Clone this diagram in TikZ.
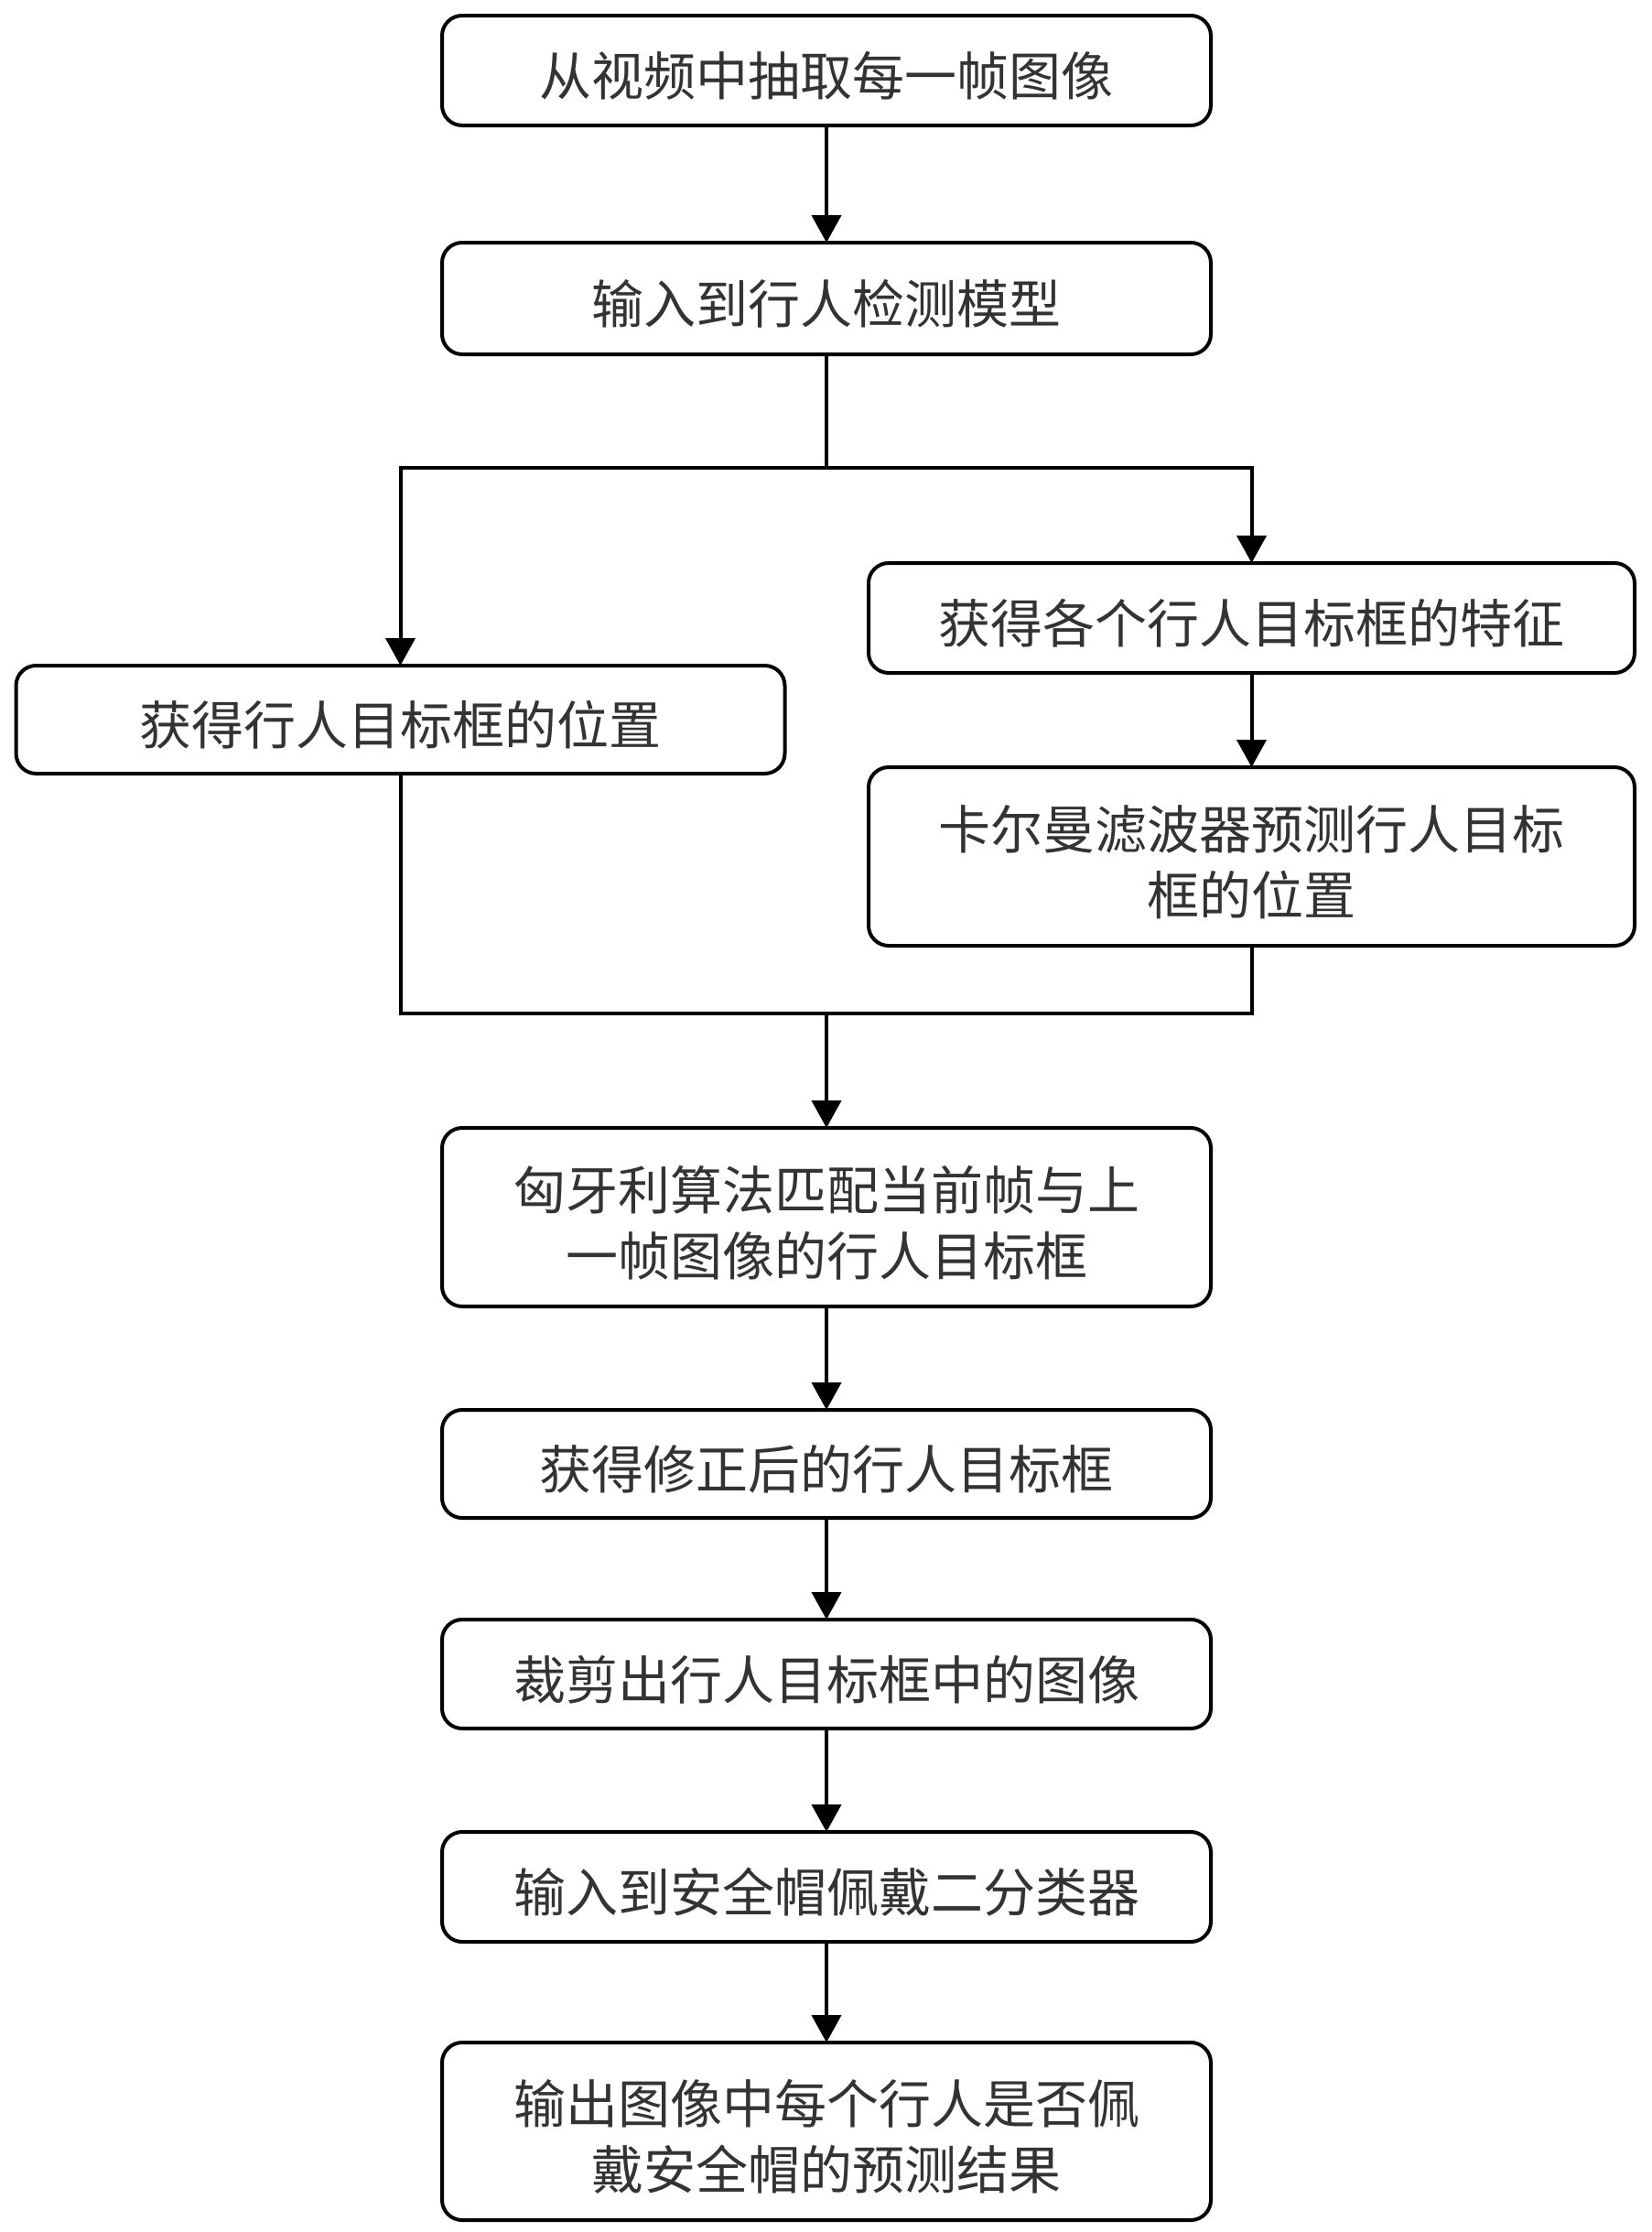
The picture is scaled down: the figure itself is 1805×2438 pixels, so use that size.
\documentclass[tikz,border=0pt]{standalone}
\usepackage{fontspec}
\setmainfont{Noto Sans CJK SC}
\usetikzlibrary{arrows.meta}
\begin{document}
\begin{tikzpicture}[x=0.5pt,y=-0.5pt,
  box/.style={draw, line width=2pt, rounded corners=11pt, minimum width=420pt,
    inner sep=0pt, outer sep=0pt},
  txt/.style={inner sep=0pt, align=center,
    font=\fontsize{28.5}{36}\selectfont, text=black!80},
  arr/.style={line width=2pt, -{Triangle[length=15pt,width=16pt]}},
  ln/.style={line width=2pt}]
\useasboundingbox (0,0) rectangle (1805,2438);
\node[box, minimum height=60pt] (b1) at (903,77) {};
\node[box, minimum height=61pt] (b2) at (903,326) {};
\node[box, minimum height=59pt] (bL) at (437.5,786) {};
\node[box, minimum height=60pt, minimum width=418.5pt] (bR1) at (1367.5,675) {};
\node[box, minimum height=97.5pt, minimum width=418.5pt] (bR2) at (1367.5,935.5) {};
\node[box, minimum height=97.5pt] (b3) at (903,1329.5) {};
\node[box, minimum height=59pt] (b4) at (903,1599) {};
\node[box, minimum height=59.5pt] (b5) at (903,1828.5) {};
\node[box, minimum height=60pt] (b6) at (903,2061) {};
\node[box, minimum height=97pt] (b7) at (903,2328) {};
\node[txt] (t1) at ([yshift=-3pt]b1.center) {从视频中抽取每一帧图像};
\node[txt] (t2) at ([yshift=-3pt]b2.center) {输入到行人检测模型};
\node[txt] (tL) at ([yshift=-3pt]bL.center) {获得行人目标框的位置};
\node[txt] (tR1) at ([yshift=-3pt]bR1.center) {获得各个行人目标框的特征};
\node[txt] (tR2) at ([yshift=-3pt]bR2.center) {卡尔曼滤波器预测行人目标\\框的位置};
\node[txt] (t3) at ([yshift=-3pt]b3.center) {匈牙利算法匹配当前帧与上\\一帧图像的行人目标框};
\node[txt] (t4) at ([yshift=-3pt]b4.center) {获得修正后的行人目标框};
\node[txt] (t5) at ([yshift=-3pt]b5.center) {裁剪出行人目标框中的图像};
\node[txt] (t6) at ([yshift=-3pt]b6.center) {输入到安全帽佩戴二分类器};
\node[txt] (t7) at ([yshift=-3pt]b7.center) {输出图像中每个行人是否佩\\戴安全帽的预测结果};
\coordinate (s1) at (903,511);
\coordinate (m1) at (903,1107);
\draw[ln] (b2.south) -- (s1);
\draw[arr] (s1) -| (bL.north);
\draw[arr] (s1) -| (bR1.north);
\draw[arr] (bR1) -- (bR2);
\draw[ln] (bL.south) |- (m1);
\draw[ln] (bR2.south) |- (m1);
\draw[arr] (m1) -- (b3);
\draw[arr] (b1) -- (b2);
\draw[arr] (b3) -- (b4);
\draw[arr] (b4) -- (b5);
\draw[arr] (b5) -- (b6);
\draw[arr] (b6) -- (b7);
\end{tikzpicture}
\end{document}
